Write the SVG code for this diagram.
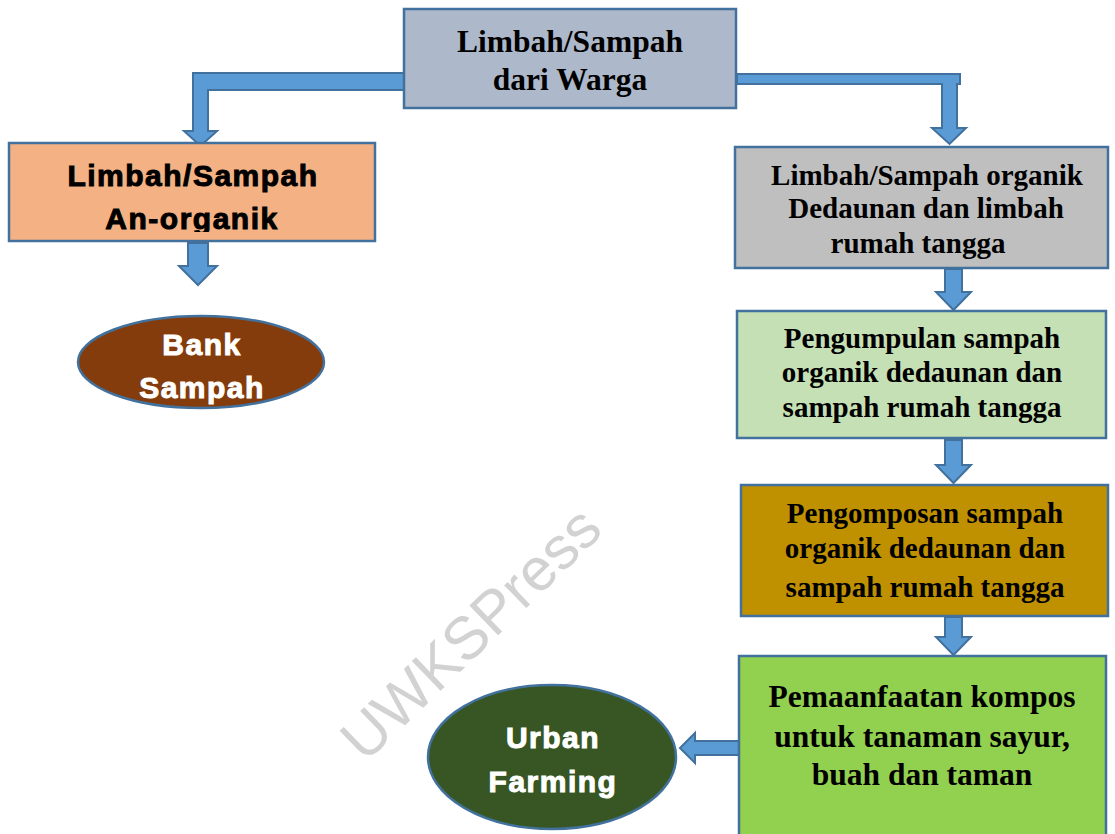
<svg xmlns="http://www.w3.org/2000/svg" width="1115" height="834" viewBox="0 0 1115 834">
<defs>
<style>
.box{stroke:#41719c;stroke-width:2.5}
.arr{fill:#5b9bd5;stroke:#41719c;stroke-width:2;stroke-linejoin:miter}
.serif{font-family:"Liberation Serif","Times New Roman",serif;font-weight:bold;fill:#000;text-anchor:middle}
.sans{font-family:"Liberation Sans",Arial,sans-serif;font-weight:bold;text-anchor:middle;font-size:30px;letter-spacing:1.5px;stroke-width:1}
.blk{fill:#000;stroke:#000}
.wht{fill:#fff;stroke:#fff}
</style>
<clipPath id="clipL"><rect x="9" y="143" width="366" height="89"/></clipPath>
<clipPath id="clipG"><rect x="735" y="147" width="373" height="115"/></clipPath>
</defs>
<rect width="1115" height="834" fill="#fff"/>
<text x="485" y="648" transform="rotate(-44 485 648)" font-family="Liberation Sans, Arial, sans-serif" font-size="60" fill="#d2d2d2" text-anchor="middle">UWKSPress</text>
<g id="connectors">
<polygon class="arr" points="404,73 193,73 193,131 184,131 200.5,146 217,131 208,131 208,90 404,90"/>
<polygon class="arr" points="737,74 960,74 960,84 957,84 957,128 966,128 949.5,144 932,128 942,128 942,84 737,84"/>
<polygon class="arr" points="188,243 208,243 208,266 217,266 198,285 179,266 188,266"/>
<polygon class="arr" points="945,269 962,269 962,292 971,292 953.5,310 936,292 945,292"/>
<polygon class="arr" points="945,440 962,440 962,465 971,465 953.5,483 936,465 945,465"/>
<polygon class="arr" points="945,617 962,617 962,637 971,637 953.5,655 936,637 945,637"/>
<polygon class="arr" points="743,741 695,741 695,733 680,748 695,763 695,755 743,755"/>
</g>
<g id="n-top">
<rect class="box" x="404" y="9" width="332" height="99" fill="#adb9ca"/>
<text class="serif" font-size="31.5" x="570" y="52">Limbah/Sampah</text>
<text class="serif" font-size="31.5" x="570" y="90">dari Warga</text>
</g>
<g id="n-anorganik">
<rect class="box" x="9" y="143" width="366" height="98" fill="#f4b183"/>
<g clip-path="url(#clipL)">
<text class="sans blk" x="193" y="186">Limbah/Sampah</text>
<text class="sans blk" x="192" y="229">An-organik</text>
</g>
</g>
<g id="n-bank">
<ellipse class="box" cx="201" cy="362" rx="123" ry="46" fill="#843c0c"/>
<text class="sans wht" x="202" y="355">Bank</text>
<text class="sans wht" x="202" y="398">Sampah</text>
</g>
<g id="n-organik">
<rect class="box" x="735" y="147" width="373" height="121" fill="#bfbfbf"/>
<g clip-path="url(#clipG)">
<text class="serif" font-size="29" x="927" y="185">Limbah/Sampah organik</text>
<text class="serif" font-size="29" x="926" y="218">Dedaunan dan limbah</text>
<text class="serif" font-size="29" x="918" y="253">rumah tangga</text>
</g>
</g>
<g id="n-pengumpulan">
<rect class="box" x="737" y="311" width="369" height="127" fill="#c5e0b4"/>
<text class="serif" font-size="29" x="922" y="348">Pengumpulan sampah</text>
<text class="serif" font-size="29" x="922" y="382">organik dedaunan dan</text>
<text class="serif" font-size="29" x="922" y="417">sampah rumah tangga</text>
</g>
<g id="n-pengomposan">
<rect class="box" x="741" y="485" width="367" height="131" fill="#bf9000"/>
<text class="serif" font-size="29" x="925" y="523">Pengomposan sampah</text>
<text class="serif" font-size="29" x="925" y="558">organik dedaunan dan</text>
<text class="serif" font-size="29" x="925" y="597">sampah rumah tangga</text>
</g>
<g id="n-pemanfaatan">
<rect class="box" x="739" y="656" width="367" height="190" fill="#92d050"/>
<text class="serif" font-size="31.5" x="922" y="707">Pemaanfaatan kompos</text>
<text class="serif" font-size="31.5" x="922" y="747">untuk tanaman sayur,</text>
<text class="serif" font-size="31.5" x="922" y="785">buah dan taman</text>
</g>
<g id="n-urban">
<ellipse class="box" cx="552" cy="757" rx="124" ry="72" fill="#375623"/>
<text class="sans wht" x="553" y="748">Urban</text>
<text class="sans wht" x="553" y="792">Farming</text>
</g>
</svg>
